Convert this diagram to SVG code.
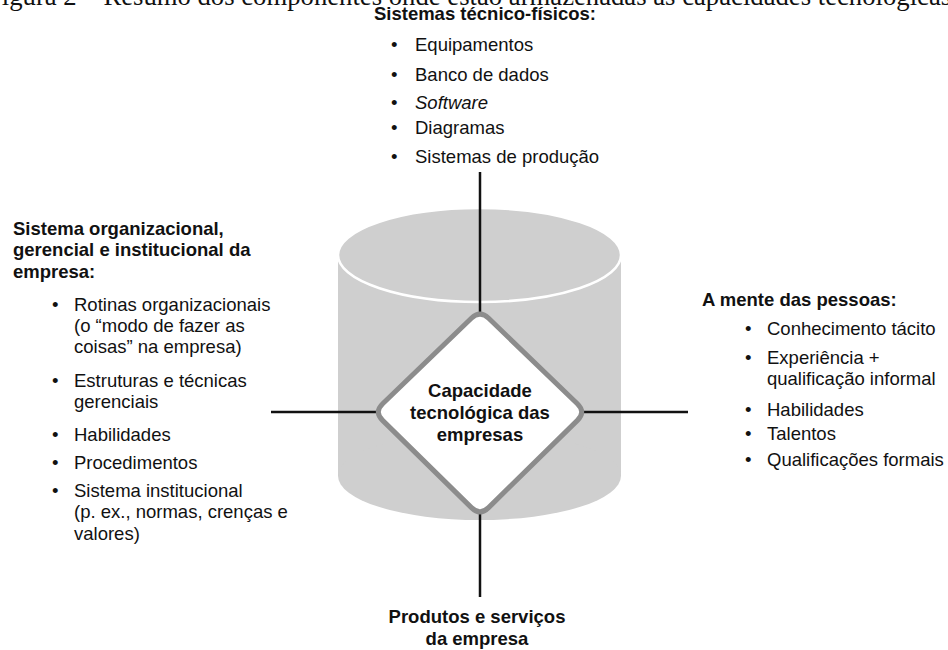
<svg xmlns="http://www.w3.org/2000/svg" width="948" height="650" viewBox="0 0 948 650">
<style>
.t{font-family:"Liberation Sans",Arial,Helvetica,sans-serif;font-size:18.5px;fill:#111}
.b{font-weight:bold}
.c{text-anchor:middle}
.cap{font-family:"Liberation Serif","Times New Roman",serif;font-size:26.7px;fill:#111}
.ln{stroke:#111;stroke-width:2.5;fill:none}
</style>
<rect width="948" height="650" fill="#fff"/>
<text class="cap" x="-13" y="5">Figura 2 – Resumo dos componentes onde estão armazenadas as capacidades tecnológicas</text>

<g id="cylinder">
<rect x="338" y="255" width="283" height="221" fill="#cfcfcf"/>
<ellipse cx="479.5" cy="476" rx="141.5" ry="44" fill="#cfcfcf"/>
<ellipse cx="479.5" cy="255" rx="141.5" ry="47" fill="#cfcfcf" stroke="#fff" stroke-width="2.5"/>
</g>

<g id="connectors">
<line class="ln" x1="480" y1="172" x2="480" y2="314"/>
<line class="ln" x1="480" y1="512" x2="480" y2="597"/>
<line class="ln" x1="271" y1="412" x2="378" y2="412"/>
<line class="ln" x1="582" y1="412" x2="688" y2="412"/>
</g>

<g id="center">
<path d="M471.35,318.32 Q480,310 488.65,318.32 L577.35,403.68 Q586,412 577.43,420.4 L488.57,507.6 Q480,516 471.43,507.6 L382.57,420.4 Q374,412 382.65,403.68 Z" fill="#fff" stroke="#8c8c8c" stroke-width="5"/>
<text class="t b c" x="480" y="397">Capacidade</text>
<text class="t b c" x="480" y="419">tecnológica das</text>
<text class="t b c" x="480" y="441">empresas</text>
</g>

<g id="top">
<text class="t b c" x="485" y="20">Sistemas técnico-físicos:</text>
<text class="t" x="391" y="51">•</text><text class="t" x="415" y="51">Equipamentos</text>
<text class="t" x="391" y="81">•</text><text class="t" x="415" y="81">Banco de dados</text>
<text class="t" x="391" y="109">•</text><text class="t" x="415" y="109" font-style="italic">Software</text>
<text class="t" x="391" y="134">•</text><text class="t" x="415" y="134">Diagramas</text>
<text class="t" x="391" y="163">•</text><text class="t" x="415" y="163">Sistemas de produção</text>
</g>

<g id="left">
<text class="t b" x="13" y="235">Sistema organizacional,</text>
<text class="t b" x="13" y="256">gerencial e institucional da</text>
<text class="t b" x="13" y="278">empresa:</text>
<text class="t" x="52" y="311">•</text><text class="t" x="74" y="311">Rotinas organizacionais</text>
<text class="t" x="74" y="332">(o “modo de fazer as</text>
<text class="t" x="74" y="353">coisas” na empresa)</text>
<text class="t" x="52" y="387">•</text><text class="t" x="74" y="387">Estruturas e técnicas</text>
<text class="t" x="74" y="408">gerenciais</text>
<text class="t" x="52" y="441">•</text><text class="t" x="74" y="441">Habilidades</text>
<text class="t" x="52" y="469">•</text><text class="t" x="74" y="469">Procedimentos</text>
<text class="t" x="52" y="497">•</text><text class="t" x="74" y="497">Sistema institucional</text>
<text class="t" x="74" y="518">(p. ex., normas, crenças e</text>
<text class="t" x="74" y="540">valores)</text>
</g>

<g id="right">
<text class="t b" x="702" y="306">A mente das pessoas:</text>
<text class="t" x="745" y="335">•</text><text class="t" x="767" y="335">Conhecimento tácito</text>
<text class="t" x="745" y="364">•</text><text class="t" x="767" y="364">Experiência +</text>
<text class="t" x="767" y="385">qualificação informal</text>
<text class="t" x="745" y="416">•</text><text class="t" x="767" y="416">Habilidades</text>
<text class="t" x="745" y="440">•</text><text class="t" x="767" y="440">Talentos</text>
<text class="t" x="745" y="466">•</text><text class="t" x="767" y="466">Qualificações formais</text>
</g>

<g id="bottom">
<text class="t b c" x="477" y="623">Produtos e serviços</text>
<text class="t b c" x="477" y="645">da empresa</text>
</g>
</svg>
